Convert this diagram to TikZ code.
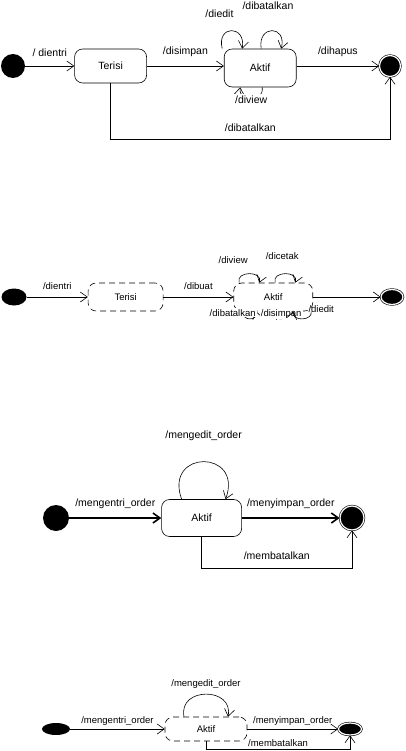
\documentclass[tikz,border=0pt]{standalone}
\usepackage{fontspec}
\setmainfont{Liberation Sans}
\usetikzlibrary{positioning, arrows.meta, shapes.geometric}

\tikzset{
  initst/.style={circle, fill, inner sep=0pt, minimum size=24pt},
  finalst/.style={circle, fill, draw, double=white, double distance=1.2pt, inner sep=0pt, minimum size=21pt},
  stbox/.style={rectangle, rounded corners=8pt, draw, minimum width=72pt, minimum height=34pt, font=\fontsize{10.5}{12}\selectfont},
  faded/.style={dash pattern=on 6pt off 4pt, font=\fontsize{9.5}{11}\selectfont},
  lbl/.style={font=\fontsize{10.5}{12}\selectfont, inner sep=1pt},
  lbls/.style={font=\fontsize{9.5}{11}\selectfont, inner sep=1pt},
}

\begin{document}
\begin{tikzpicture}[x=1pt, y=-1pt, >={Straight Barb[length=7pt,width=10pt]}, line width=0.6pt]
    \useasboundingbox (0,0) rectangle (406,751);

    % first diagram
    \node[initst] (1) at (13,66) {};
    \node[stbox, right=49pt of 1] (2) {Terisi};
    \node[stbox, minimum height=38pt, right=77pt of 2, yshift=-2pt] (3) {Aktif};
    \node[finalst] (4) at (390,66) {};

    \draw[->] (1) -- node[lbl, above=8pt] {/ dientri} (2);
    \draw[->] (2) -- node[lbl, above=8pt] {/disimpan} (2 -| 3.west);
    \draw[->] (3.east |- 2) -- node[lbl, above=8pt] {/dihapus} (4);
    \draw[->] ([xshift=-38pt]3.north) .. controls +(-6,-24) and +(4,-24) .. node[lbl, above=12pt, xshift=-12pt] {/diedit} ([xshift=-18pt]3.north);
    \draw[->] ([xshift=1pt]3.north) .. controls +(-4,-24) and +(6,-24) .. node[lbl, above=20pt, xshift=-4pt] {/dibatalkan} ([xshift=21pt]3.north);
    \draw[->] ([xshift=2pt]3.south) .. controls +(2,16) and +(-2,16) .. node[lbl, fill=white] {/diview} ([xshift=-20pt]3.south);
    \draw[->] (2.south) -- ++(0,56) -| node[lbl, pos=.25, above=6pt] {/dibatalkan} (4.south);

    % second diagram
    \node[initst, ellipse, minimum width=25pt, minimum height=17pt] (5) at (14,297) {};
    \node[stbox, faded, minimum width=75pt, minimum height=28pt, right=61pt of 5] (6) {Terisi};
    \node[stbox, faded, minimum width=79pt, minimum height=28pt, right=70pt of 6] (7) {Aktif};
    \node[finalst, ellipse, minimum width=22pt, minimum height=15pt] (8) at (392,297) {};

    \draw[->] (5) -- node[lbls, above=6pt] {/dientri} (6);
    \draw[->] (6) -- node[lbls, above=6pt] {/dibuat} (7);
    \draw[->] (7) -- (8);
    \draw[->] ([xshift=-34pt]7.north) .. controls +(-4,-12) and +(4,-12) .. node[lbls, above=9pt, xshift=-16pt] {/diview} ([xshift=-14pt]7.north);
    \draw[->] ([xshift=2pt]7.north) .. controls +(-4,-12) and +(4,-12) .. node[lbls, above=13pt, xshift=-3pt] {/dicetak} ([xshift=22pt]7.north);
    \draw[->] ([xshift=-30pt]7.south) .. controls +(-2,10) and +(2,10) .. node[lbls, fill=white, xshift=-17pt, yshift=6pt] {/dibatalkan} ([xshift=-17pt]7.south);
    \draw[->] ([xshift=16pt]7.south) .. controls +(2,10) and +(-2,10) .. node[lbls, fill=white, yshift=5pt] {/disimpan} (7.south);
    \draw[->] ([xshift=38pt]7.south) .. controls +(2,10) and +(-2,10) .. node[lbls, xshift=19pt, yshift=10pt] {/diedit} ([xshift=20pt]7.south);

    % third diagram
    \node[initst, minimum size=26pt] (9) at (56,518) {};
    \node[stbox, minimum width=80pt, minimum height=37pt, right=92pt of 9] (10) {Aktif};
    \node[finalst, minimum size=24pt] (11) at (352,518) {};

    \draw[->, line width=1.6pt] (9) -- node[lbl, above=8pt] {/mengentri\_order} (10);
    \draw[->, line width=1.6pt] (10) -- node[lbl, above=8pt] {/menyimpan\_order} (11);
    \draw[->] ([xshift=-20pt]10.north) .. controls +(-18,-50) and +(18,-50) .. node[lbl, above=20pt] {/mengedit\_order} ([xshift=24pt]10.north);
    \draw[->] (10.south) -- ++(0,31) -| node[lbl, pos=.25, above=7pt] {/membatalkan} (11.south);

    % fourth diagram
    \node[initst, ellipse, minimum width=28pt, minimum height=12pt] (12) at (56,729) {};
    \node[stbox, faded, minimum width=82pt, minimum height=24pt] (13) at (206,729) {Aktif};
    \node[finalst, ellipse, minimum width=23pt, minimum height=12pt] (14) at (350,729) {};

    \draw[->] (12) -- node[lbls, above=2pt] {/mengentri\_order} (13);
    \draw[->] (13) -- node[lbls, above=2pt] {/menyimpan\_order} (14);
    \draw[->] ([xshift=-22pt]13.north) .. controls +(-6,-30) and +(6,-30) .. node[lbls, above=4pt] {/mengedit\_order} ([xshift=22pt]13.north);
    \draw[->] (13.south) -- ++(0,8) -| node[lbls, pos=.25, above=1pt] {/membatalkan} (14.south);
\end{tikzpicture}
\end{document}
